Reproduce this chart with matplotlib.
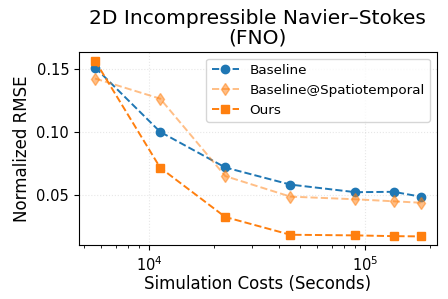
import matplotlib
matplotlib.use("Agg")
import matplotlib.pyplot as plt

costs = [5625, 11250, 22500, 45000, 90000, 135000, 180000]
baseline = [0.1508, 0.1000, 0.0719, 0.0584, 0.0524, 0.0527, 0.0489]
baseline_st = [0.1421, 0.1262, 0.0651, 0.0489, 0.0468, 0.0452, 0.0441]
ours = [0.1561, 0.0717, 0.0328, 0.0188, 0.0183, 0.0177, 0.0175]


def main():
    fig, ax = plt.subplots(figsize=(4.48, 2.99), dpi=100)
    ax.plot(costs, baseline, "--o", color="tab:blue", ms=6, lw=1.4, label="Baseline")
    ax.plot(costs, baseline_st, "--d", color="tab:orange", alpha=0.5, ms=6, lw=1.4,
            label="Baseline@Spatiotemporal")
    ax.plot(costs, ours, "--s", color="tab:orange", ms=6, lw=1.4, label="Ours")
    ax.set_xscale("log")
    ax.grid(True, linestyle=":", alpha=0.3)
    ax.set_title("2D Incompressible Navier\u2013Stokes\n(FNO)", fontsize=14.5, linespacing=1.05)
    ax.set_xlabel("Simulation Costs (Seconds)", fontsize=12, labelpad=1)
    ax.set_ylabel("Normalized RMSE", fontsize=12)
    ax.tick_params(labelsize=10.5)
    ax.legend(loc="upper right", fontsize=9.7)
    fig.subplots_adjust(left=0.176, right=0.975, top=0.826, bottom=0.18)
    fig.savefig("out.png", dpi=100)


if __name__ == "__main__":
    main()
